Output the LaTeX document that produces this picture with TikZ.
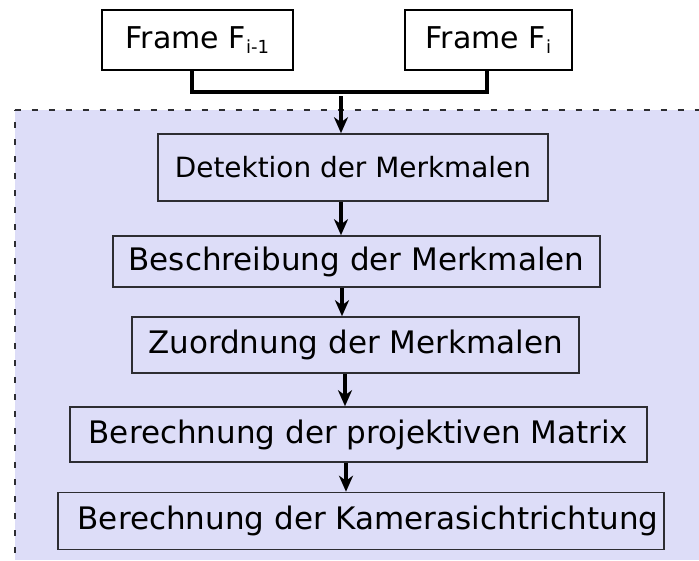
\documentclass[tikz,border=0pt]{standalone}
\usepackage{fontspec}
\setmainfont{DejaVu Sans}
\usetikzlibrary{arrows.meta}
\definecolor{regionfill}{RGB}{221,221,248}
\definecolor{edgegray}{RGB}{45,45,50}
\newcommand{\lowsub}[1]{\raisebox{-5.5pt}{\fontsize{18}{20}\selectfont #1}}
\tikzset{
  box/.style={draw=edgegray, line width=1.6pt, inner sep=0pt, anchor=center},
  framebox/.style={box, draw=black, font=\fontsize{30}{36}\selectfont},
  stepbox/.style={box, font=\fontsize{31}{36}\selectfont},
  link/.style={line width=3.4pt, line cap=rect},
  arr/.style={line width=3.4pt, -{Stealth[length=16pt,width=14pt,inset=5pt]}},
  regionedge/.style={draw=edgegray, line width=2pt, dash pattern=on 6pt off 11pt}
}
\begin{document}
\begin{tikzpicture}[x=1pt,y=-1pt]
\useasboundingbox (0,0) rectangle (699,560);
% shaded region
\fill[regionfill] (14.5,109.5) rectangle (699,560);
\coordinate (rc) at (14.5,109.5);
\coordinate (rtr) at (699,109.5);
\coordinate (rbl) at (14.5,560);
\draw[regionedge] (rc) -- (rtr);
\draw[regionedge, dash phase=4.5pt] (rc) -- (rbl);

% frames
\node[framebox, minimum width=191pt, minimum height=60pt] (f1) at (197.5,40) {Frame F\lowsub{i-1}};
\node[framebox, minimum width=167pt, minimum height=60pt] (f2) at (488.5,40) {Frame F\lowsub{i}};

% steps
\node[stepbox, font=\fontsize{27.9}{33}\selectfont, minimum width=390pt, minimum height=67pt] (d1) at (353,167.5) {Detektion der Merkmalen};
\node[stepbox, minimum width=487pt, minimum height=51pt] (d2) at (356.5,261.5) {Beschreibung der Merkmalen};
\node[stepbox, minimum width=447pt, minimum height=56pt] (d3) at (355.5,345) {Zuordnung der Merkmalen};
\node[stepbox, minimum width=577pt, minimum height=55pt] (d4) at (358.5,434.5) {Berechnung der projektiven Matrix};
\node[stepbox, minimum width=606pt, minimum height=57pt] (d5) at (361,521) {\hspace*{14pt}Berechnung der Kamerasichtrichtung};

% join of the two frames
\coordinate (ja) at (192,92);
\coordinate (jb) at (487,92);
\draw[link] (f1.south -| ja) -- (ja) -- (jb) -- (f2.south -| jb);

% arrows
\coordinate (s0) at (341,96);
\coordinate (x1) at (341,0);
\coordinate (x2) at (342,0);
\coordinate (x3) at (345,0);
\coordinate (x4) at (346,0);
\draw[arr] (s0) -- (d1.north -| s0);
\draw[arr] (d1.south -| x1) -- (d2.north -| x1);
\draw[arr] (d2.south -| x2) -- (d3.north -| x2);
\draw[arr] (d3.south -| x3) -- (d4.north -| x3);
\draw[arr] (d4.south -| x4) -- (d5.north -| x4);
\end{tikzpicture}
\end{document}
